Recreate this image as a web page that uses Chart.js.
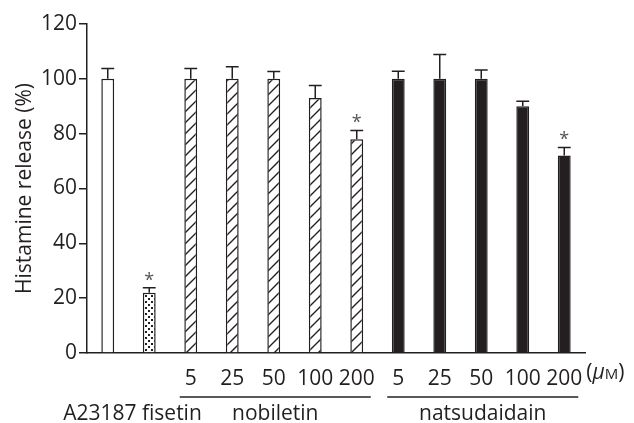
<!DOCTYPE html>
<html>
<head>
<meta charset="utf-8">
<script src="https://cdn.jsdelivr.net/npm/chart.js@4"></script>
<style>
  html, body { margin: 0; padding: 0; background: #fff; }
  #wrap { width: 634px; height: 423px; }
</style>
</head>
<body>
<div id="wrap"><canvas id="chart" width="634" height="423"></canvas></div>
<script>
// data
var categories = ['A23187', 'fisetin', 'nob 5', 'nob 25', 'nob 50', 'nob 100', 'nob 200',
                  'nat 5', 'nat 25', 'nat 50', 'nat 100', 'nat 200'];
var doseLabels = ['', '', '5', '25', '50', '100', '200', '5', '25', '50', '100', '200'];
var release = [100, 22, 100, 100, 100, 93, 78, 100, 100, 100, 90, 72];
var sem = [3.8, 1.8, 3.8, 4.4, 2.7, 4.6, 3.2, 2.8, 8.9, 3.2, 1.8, 3];
var significant = [false, true, false, false, false, false, true, false, false, false, false, true];
var fills = ['open', 'dots', 'hatch', 'hatch', 'hatch', 'hatch', 'hatch',
             'solid', 'solid', 'solid', 'solid', 'solid'];
var groupNames = ['nobiletin', 'natsudaidain'];
var groupStart = [2, 7];
var groupEnd = [6, 11];
var yTicks = [0, 20, 40, 60, 80, 100, 120];

var INK = '#231f20';
var FONT = '"Open Sans", sans-serif';
var SIZE = 21;

var ctx = document.getElementById('chart').getContext('2d');

function makePattern(kind)
{
    var c = document.createElement('canvas');
    var x = c.getContext('2d');
    if (kind === 'hatch') {
        var s = 11;
        c.width = s; c.height = s;
        x.fillStyle = '#fff';
        x.fillRect(0, 0, s, s);
        x.strokeStyle = INK;
        x.lineWidth = 1.4;
        x.beginPath();
        x.moveTo(-2, s + 2); x.lineTo(s + 2, -2);
        x.moveTo(-2, 2); x.lineTo(2, -2);
        x.moveTo(s - 2, s + 2); x.lineTo(s + 2, s - 2);
        x.stroke();
    } else {
        c.width = 6; c.height = 6;
        x.fillStyle = '#fff';
        x.fillRect(0, 0, 6, 6);
        x.fillStyle = INK;
        x.fillRect(1, 1, 2, 2);
        x.fillRect(4, 4, 2, 2);
    }
    return ctx.createPattern(c, 'repeat');
}

var hatchFill = makePattern('hatch');
var dotFill = makePattern('dots');
var barColors = fills.map(function (f) {
    if (f === 'open') return '#fff';
    if (f === 'dots') return dotFill;
    if (f === 'hatch') return hatchFill;
    return INK;
});

var extras = {
    id: 'extras',
    afterDatasetsDraw: function (chart) {
        var c = chart.ctx;
        var y = chart.scales.y;
        var meta = chart.getDatasetMeta(0);
        c.save();
        c.strokeStyle = INK;
        c.lineWidth = 1.5;
        c.fillStyle = '#555';
        c.font = '18px ' + FONT;
        c.textAlign = 'center';
        c.textBaseline = 'alphabetic';
        meta.data.forEach(function (bar, i) {
            var top = y.getPixelForValue(release[i]);
            var cap = y.getPixelForValue(release[i] + sem[i]);
            var half = bar.width / 2;
            c.beginPath();
            c.moveTo(bar.x, top);
            c.lineTo(bar.x, cap);
            c.moveTo(bar.x - half, cap);
            c.lineTo(bar.x + half, cap);
            c.stroke();
            if (significant[i]) {
                c.fillText('*', bar.x, cap - 2);
            }
        });
        c.restore();
    },
    afterDraw: function (chart) {
        var c = chart.ctx;
        var x = chart.scales.x;
        var lineY = 397;
        var textY = 420;
        c.save();
        c.strokeStyle = INK;
        c.fillStyle = INK;
        c.lineWidth = 1.5;
        c.font = SIZE + 'px ' + FONT;
        c.textAlign = 'center';
        c.textBaseline = 'alphabetic';
        groupNames.forEach(function (name, g) {
            var x0 = x.getPixelForValue(groupStart[g]) - 11;
            var x1 = x.getPixelForValue(groupEnd[g]) + 14;
            c.beginPath();
            c.moveTo(x0, lineY);
            c.lineTo(x1, lineY);
            c.stroke();
            c.fillText(name, (x0 + x1) / 2, textY);
        });
        var mid01 = (x.getPixelForValue(0) + x.getPixelForValue(1)) / 2;
        c.fillText(categories[0] + ' ' + categories[1], mid01 + 4, textY);

        // unit after the last dose label
        var last = x.getPixelForValue(doseLabels.length - 1);
        c.textAlign = 'left';
        var ux = last + c.measureText('200').width / 2 + 4;
        var uy = 379;
        c.fillText('(', ux, uy);
        ux += c.measureText('(').width;
        c.font = 'italic ' + SIZE + 'px ' + FONT;
        c.fillText('\u03bc', ux, uy);
        ux += c.measureText('\u03bc').width;
        c.font = '15px ' + FONT;
        c.fillText('M', ux, uy);
        ux += c.measureText('M').width;
        c.font = SIZE + 'px ' + FONT;
        c.fillText(')', ux, uy);
        c.restore();
    }
};

new Chart(ctx, {
    type: 'bar',
    data: {
        labels: doseLabels,
        datasets: [{
            data: release,
            backgroundColor: barColors,
            borderColor: INK,
            borderWidth: 1.5,
            barPercentage: 0.31,
            categoryPercentage: 1
        }]
    },
    options: {
        responsive: false,
        animation: false,
        events: [],
        layout: { padding: { top: 24, right: 49, left: 0, bottom: 0 } },
        plugins: {
            legend: { display: false },
            tooltip: { enabled: false }
        },
        scales: {
            x: {
                offset: true,
                grid: { display: false },
                border: { display: true, color: INK, width: 1.5 },
                ticks: {
                    color: INK,
                    font: { family: FONT, size: SIZE },
                    padding: 5,
                    maxRotation: 0,
                    autoSkip: false
                },
                afterFit: function (scale) { scale.height = 70; }
            },
            y: {
                min: 0,
                max: 120,
                afterBuildTicks: function (scale) {
                    scale.ticks = yTicks.map(function (v) { return { value: v }; });
                },
                grid: {
                    drawOnChartArea: false,
                    drawTicks: true,
                    tickLength: 8,
                    color: INK,
                    lineWidth: 1.5
                },
                border: { display: true, color: INK, width: 1.5 },
                ticks: {
                    color: INK,
                    font: { family: FONT, size: SIZE },
                    padding: 2
                },
                title: {
                    display: true,
                    text: 'Histamine release (%)',
                    color: INK,
                    font: { family: FONT, size: SIZE },
                    padding: { top: 12, bottom: 0 }
                },
                afterFit: function (scale) { scale.width = 87; }
            }
        }
    },
    plugins: [extras]
});
</script>
</body>
</html>
